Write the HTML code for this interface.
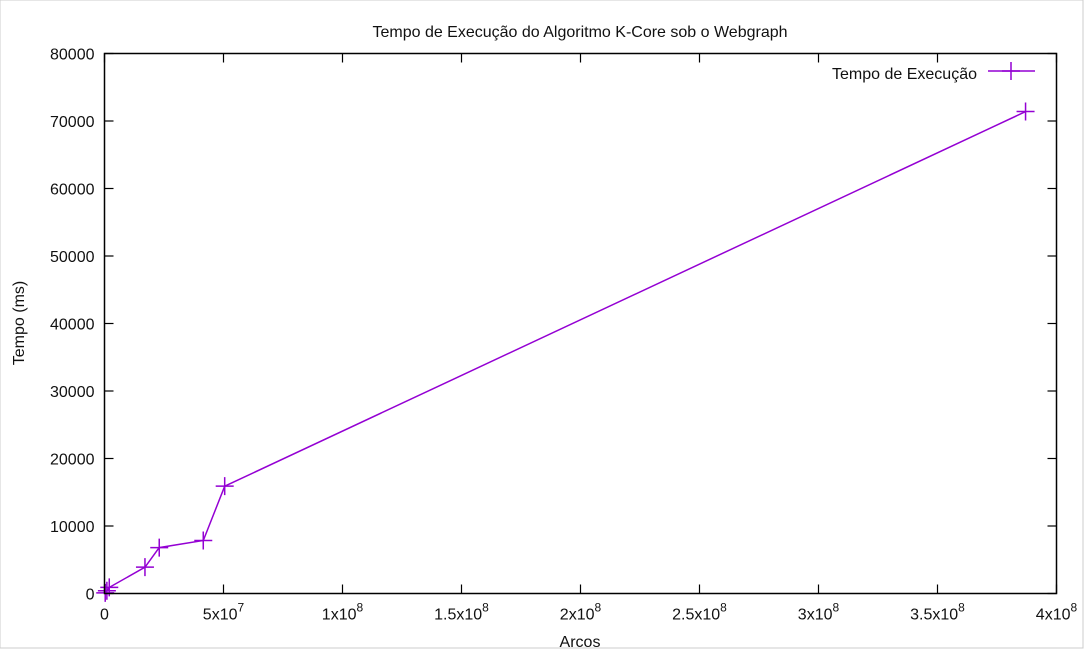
<!DOCTYPE html>
<html><head><meta charset="utf-8"><style>
html,body{margin:0;padding:0;background:#fff;}
svg{display:block;font-family:"Liberation Sans",sans-serif;}
</style></head><body>
<svg id="chart" width="1086" height="651">
<rect x="0" y="0" width="1083" height="648" fill="#fff" stroke="#ccc" stroke-width="1"/>
<text x="580" y="37" text-anchor="middle" font-size="16" fill="#111">Tempo de Execução do Algoritmo K-Core sob o Webgraph</text>
<text x="580" y="647" text-anchor="middle" font-size="16" fill="#111">Arcos</text>
<text x="24" y="323" text-anchor="middle" font-size="16" fill="#111" transform="rotate(-90 24 323)">Tempo (ms)</text>
<g id="axes"></g>
<g id="series"></g>
<g>
<text x="977" y="79" text-anchor="end" font-size="16" fill="#111">Tempo de Execução</text>
<line x1="988" y1="71" x2="1035" y2="71" stroke="#9400d3" stroke-width="1.5"/>
<path d="M1002,71h18M1011,62v18" stroke="#9400d3" stroke-width="1.5"/>
</g>
<rect x="104.5" y="53.5" width="952" height="540" fill="none" stroke="#000" stroke-width="1.5"/>
</svg>
<script>
const arcs = [0.3e6, 1e6, 2e6, 17e6, 23e6, 41.5e6, 50.5e6, 387e6];
const tempos = [100, 400, 900, 3900, 6800, 7850, 15900, 71400];
const xTicks = [0, 5e7, 1e8, 1.5e8, 2e8, 2.5e8, 3e8, 3.5e8, 4e8];
const xTickBase = ["0", "5x10", "1x10", "1.5x10", "2x10", "2.5x10", "3x10", "3.5x10", "4x10"];
const xTickExp = ["", "7", "8", "8", "8", "8", "8", "8", "8"];
const yTicks = [0, 10000, 20000, 30000, 40000, 50000, 60000, 70000, 80000];

const L = 104.5, R = 1056.5, T = 53.5, B = 593.5;
const xs = v => L + v / 4e8 * (R - L);
const ys = v => B - v / 80000 * (B - T);
const NS = "http://www.w3.org/2000/svg";
const axes = document.getElementById('axes');
const series = document.getElementById('series');
function mk(tag, attrs, parent) {
  const e = document.createElementNS(NS, tag);
  for (const k in attrs) e.setAttribute(k, attrs[k]);
  parent.appendChild(e);
  return e;
}
yTicks.forEach((v, i) => {
  const y = ys(v);
  const t1 = mk('line', {x1: L, x2: L + 9, y1: y, y2: y, stroke: '#000', 'stroke-width': 1.2}, axes);
  
  
  const t2 = mk('line', {x1: R - 9, x2: R, y1: y, y2: y, stroke: '#000', 'stroke-width': 1.2}, axes);
  
  
  const tx = mk('text', {x: L - 10, y: y + 6, 'text-anchor': 'end', 'font-size': 16, fill: '#111'}, axes);
  tx.textContent = String(v);
  
  
});
xTicks.forEach((v, i) => {
  const x = xs(v);
  const t1 = mk('line', {x1: x, x2: x, y1: B, y2: B - 9, stroke: '#000', 'stroke-width': 1.2}, axes);
  
  
  const t2 = mk('line', {x1: x, x2: x, y1: T, y2: T + 9, stroke: '#000', 'stroke-width': 1.2}, axes);
  
  
  const tx = mk('text', {x: x, y: B + 26, 'text-anchor': 'middle', 'font-size': 16, fill: '#111'}, axes);
  
  
  tx.appendChild(document.createTextNode(xTickBase[i]));
  if (xTickExp[i]) {
    const sp = mk('tspan', {dy: -8, 'font-size': 12}, tx);
    sp.textContent = xTickExp[i];
  }
});
const pts = arcs.map((a, i) => xs(a).toFixed(1) + ',' + ys(tempos[i]).toFixed(1)).join(' ');
const pl = mk('polyline', {points: pts, fill: 'none', stroke: '#9400d3', 'stroke-width': 1.5}, series);


arcs.forEach((a, i) => {
  const x = xs(a), y = ys(tempos[i]);
  const m = mk('path', {d: `M${x-9},${y}h18M${x},${y-9}v18`, stroke: '#9400d3', 'stroke-width': 1.5}, series);
  
  
});
</script>
</body></html>
